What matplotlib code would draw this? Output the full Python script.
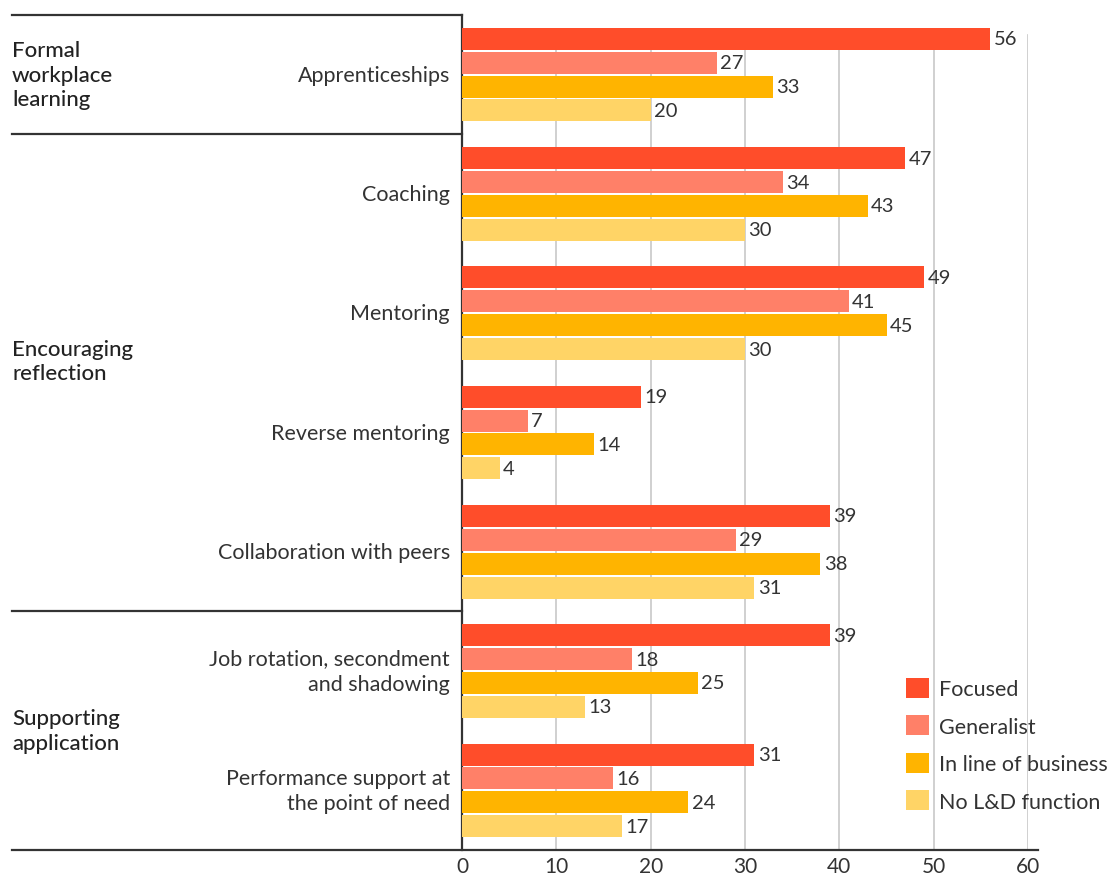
import numpy as np
import matplotlib
matplotlib.use("Agg")
import matplotlib.pyplot as plt
from matplotlib.lines import Line2D
from matplotlib.patches import Patch
from matplotlib import transforms

plt.rcParams['font.family'] = ['Lato', 'DejaVu Sans']

# data
categories = ['Apprenticeships', 'Coaching', 'Mentoring', 'Reverse mentoring',
              'Collaboration with peers', 'Job rotation, secondment\nand shadowing',
              'Performance support at\nthe point of need']
groups = ['Formal\nworkplace\nlearning', 'Encouraging\nreflection', 'Supporting\napplication']
series = ['Focused', 'Generalist', 'In line of business', 'No L&D function']
focused = [56, 47, 49, 19, 39, 39, 31]
generalist = [27, 34, 41, 7, 29, 18, 16]
in_line = [33, 43, 45, 14, 38, 25, 24]
no_ld = [20, 30, 30, 4, 31, 13, 17]
xticks = [0, 10, 20, 30, 40, 50, 60]

colors = ['#FF4D2A', '#FF8068', '#FFB400', '#FFD466']
text_col = '#333333'

fig = plt.figure(figsize=(11.17, 8.78), dpi=100)
W, H = 1117, 878
ax = fig.add_axes([462 / W, 27 / H, 566 / W, 835 / H])

y = np.arange(len(categories))
offsets = [-0.3, -0.1, 0.1, 0.3]
for vals, off, col in zip([focused, generalist, in_line, no_ld], offsets, colors):
    ax.barh(y + off, vals, height=0.185, color=col, zorder=3)
    for yi, v in zip(y, vals):
        ax.text(v + 0.35, yi + off, str(v), va='center', ha='left',
                fontsize=14.5, color=text_col, zorder=4)

ax.set_xlim(0, 60)
ax.set_ylim(len(categories) - 0.5, -0.5)

# grid lines
for t in xticks[1:]:
    ax.axvline(t, ymin=0, ymax=(851 - 36) / 835, color='#C8C8C8', lw=1.2, zorder=1)

ax.set_xticks(xticks)
ax.set_xticklabels([str(t) for t in xticks], fontsize=15, color=text_col)
ax.tick_params(axis='x', length=0, pad=4)
ax.set_yticks([])
for s in ['top', 'right', 'bottom']:
    ax.spines[s].set_visible(False)
ax.spines['left'].set_color(text_col)
ax.spines['left'].set_linewidth(1.6)

# category labels
for yi, lab in zip(y, categories):
    ax.text(-12 / 9.43, yi, lab, ha='right', va='center', fontsize=15.5,
            color=text_col, linespacing=1.35)

# group separators and labels
tr = transforms.blended_transform_factory(fig.transFigure, ax.transData)
for yy in [-0.5, 0.5, 4.5]:
    ax.add_line(Line2D([12 / W, 462 / W], [yy, yy], transform=tr, color=text_col,
                       lw=1.6, clip_on=False))
fig.add_artist(Line2D([12 / W, 1038 / W], [27 / H, 27 / H], color=text_col, lw=1.6))

for gy, g in zip([0.0, 2.4, 5.5], groups):
    ax.text(12 / W, gy, g, transform=tr, ha='left', va='center', fontsize=16,
            color='#222222', fontweight='medium', linespacing=1.3)

# legend
handles = [Patch(facecolor=c, edgecolor='none') for c in colors]
leg = fig.legend(handles, series, loc='upper left',
                 bbox_to_anchor=(906 / W, 1 - 679 / H), bbox_transform=fig.transFigure,
                 frameon=False, fontsize=15.5, handlelength=1.05, handleheight=1.05,
                 labelspacing=0.75, handletextpad=0.5, borderpad=0, borderaxespad=0)
for t in leg.get_texts():
    t.set_color(text_col)

fig.savefig('out.png', dpi=100, facecolor='white')
